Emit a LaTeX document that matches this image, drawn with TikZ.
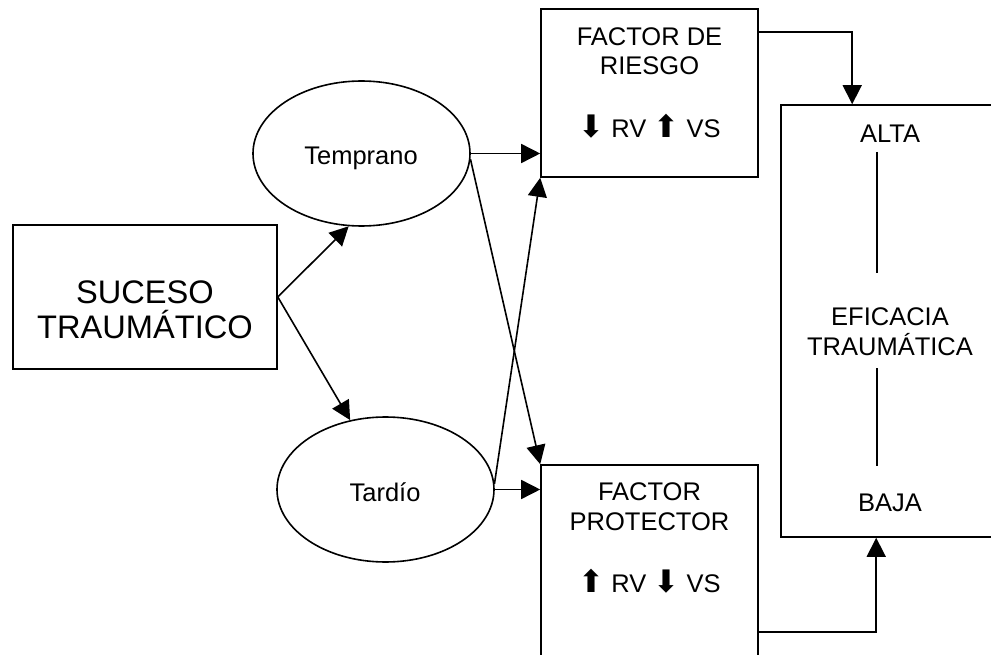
\documentclass[tikz,border=0pt]{standalone}
\usepackage{fontspec}
\setmainfont{Liberation Sans}
\newfontfamily\arrowfont{DejaVu Sans}
\usetikzlibrary{arrows.meta,shapes.geometric,calc}
\newcommand{\dnarr}{{\arrowfont\fontsize{31}{31}\selectfont ⬇}}
\newcommand{\uparr}{{\arrowfont\fontsize{31}{31}\selectfont ⬆}}
\begin{document}
\begin{tikzpicture}[x=1pt,y=-1pt,line width=1.6pt,
  box/.style={draw,rectangle,inner sep=0pt},
  oval/.style={draw,ellipse,inner sep=0pt,minimum width=217pt,minimum height=145pt},
  txt/.style={inner sep=0pt,align=center,font=\fontsize{25.5}{29}\selectfont},
  onel/.style={inner sep=0pt,text height=18.3pt,text depth=0pt,font=\fontsize{25.5}{29}\selectfont},
  bigtxt/.style={inner sep=0pt,align=center,font=\fontsize{32.6}{35}\selectfont},
  arr/.style={-{Triangle[length=19pt,width=19pt]}},
  thin/.style={line width=1.3pt}]
\useasboundingbox (0,0) rectangle (991,655);
\clip (0,0) rectangle (991,655);
% shapes
\node[box,minimum width=264pt,minimum height=144pt] (suceso) at (145,297) {};
\node[oval] (temprano) at (361.5,153.5) {};
\node[oval] (tardio) at (385.5,489.5) {};
\node[box,minimum width=217pt,minimum height=168pt] (riesgo) at (649.5,93) {};
\node[box,minimum width=217pt,minimum height=260pt] (protector) at (649.5,595) {};
\node[box,minimum width=260pt,minimum height=432pt] (eficacia) at (911,321) {};
% texts
\node[bigtxt] (tsuceso) at (145,310) {SUCESO\\TRAUMÁTICO};
\node[onel] (ttemprano) at (361,155.5) {Temprano};
\node[onel] (ttardio) at (385,492) {Tardío};
\node[txt] (triesgo) at (649.5,51) {FACTOR DE\\RIESGO};
\node[onel] (triesgo2) at (649.5,128) {\dnarr{} RV \uparr{} VS};
\node[txt,font=\fontsize{25.5}{30}\selectfont] (tprot) at (649.5,507) {FACTOR\\PROTECTOR};
\node[onel] (tprot2) at (649.5,583) {\uparr{} RV \dnarr{} VS};
\node[onel] (alta) at (890,133) {ALTA};
\node[txt,font=\fontsize{25.5}{30}\selectfont] (tefic) at (890,332) {EFICACIA\\TRAUMÁTICA};
\node[onel] (baja) at (890,502) {BAJA};
% scale lines inside the efficacy box
\draw[thin] (877,152) -- (877,273);
\draw[thin] (877,368) -- (877,466);
% connectors
\draw[arr] (suceso.east) -- (temprano.260);
\draw[arr] (suceso.east) -- (tardio.117);
\draw[arr] (temprano.east) -- (temprano.east -| riesgo.west);
\draw[arr] (temprano.-3) -- (protector.north west);
\draw[arr] (tardio.3) -- (riesgo.south west);
\draw[arr] (tardio.east) -- (tardio.east -| protector.west);
\coordinate (r1) at ($(riesgo.north east)+(0,24)$);
\coordinate (e1) at ($(eficacia.north west)+(72,0)$);
\draw[arr] (r1) -| (e1);
\coordinate (p1) at ($(protector.north east)+(0,168)$);
\coordinate (e2) at ($(eficacia.south west)+(96,0)$);
\draw[arr] (p1) -| (e2);
\end{tikzpicture}
\end{document}
